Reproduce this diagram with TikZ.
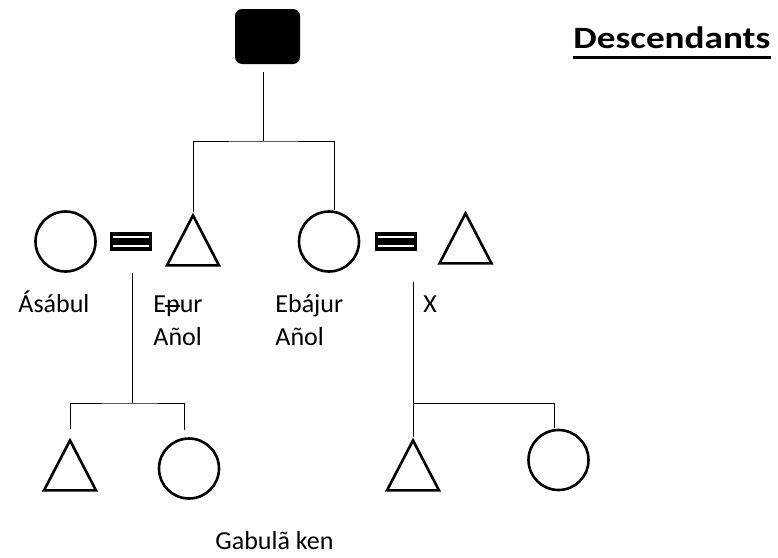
\documentclass[tikz,border=0pt]{standalone}
\usepackage{graphicx}
\usepackage{fontspec}
\setmainfont{Carlito}
\usetikzlibrary{shapes.geometric}
\newcommand{\pbar}{\rlap{\kern-0.05em\raisebox{0.21em}{\rule{0.6em}{0.06em}}}p}

\begin{document}
\begin{tikzpicture}[x=1pt,y=-1pt,line width=0.9pt,
    female/.style={circle,draw,line width=2.6pt,minimum size=60pt,inner sep=0pt},
    male/.style={isosceles triangle,shape border rotate=90,isosceles triangle stretches,draw,line width=2.6pt,minimum width=52pt,minimum height=50pt,inner sep=0pt,anchor=apex},
    marriage/.style={rectangle,fill=black,minimum width=42pt,minimum height=19pt,inner sep=0pt,
        path picture={\draw[white,line width=2.8pt] ([shift={(-18pt,4.5pt)}]path picture bounding box.center) -- ++(36pt,0)
                                                    ([shift={(-18pt,-4.5pt)}]path picture bounding box.center) -- ++(36pt,0);}},
    kinname/.style={font=\fontsize{26}{33}\selectfont,anchor=base west,align=left,inner sep=0pt}]
    \useasboundingbox (0,0) rectangle (778,557);

    % ego and siblings
    \node[fill=black,rounded corners=7pt,minimum width=65pt,minimum height=55pt] (ego) at (267.5,36.5) {};
    \coordinate (egoline) at (263,72);
    \coordinate (sib) at (263,141);
    \node[female] (asabul) at (65.5,241.5) {};
    \node[marriage] (m1) at (131,241.5) {};
    \node[male] (epur) at (193,212) {};
    \node[female] (ebajur) at (329,241.5) {};
    \node[marriage] (m2) at (395.5,241.5) {};
    \node[male] (x) at (465.5,210) {};

    % children
    \node[male] (son1) at (70,437) {};
    \node[female] (dau1) at (189,468.5) {};
    \node[male] (son2) at (413,437) {};
    \node[female] (dau2) at (558.5,460) {};
    \coordinate (d1) at (132,273);
    \coordinate (j1) at (132,403);
    \coordinate (d2) at (413,282);
    \coordinate (j2) at (413,403);

    \draw (egoline) -- (sib);
    \draw (epur.apex) |- (sib) -| ([xshift=5pt]ebajur.north);
    \draw (d1) -- (j1);
    \draw ([yshift=8pt]son1.apex) |- (j1) -| ([xshift=-5pt,yshift=7pt]dau1.north);
    \draw (d2) -- (son2.apex);
    \draw (j2) -| ([xshift=-4.5pt,yshift=1pt]dau2.north);

    % names (base = last line)
    \node[kinname] (lasabul) at (18,312) {Ásábul};
    \node[kinname] (lepur) at (153,345) {E\pbar ur\\Añol};
    \node[kinname] (lebajur) at (275,345) {Ebájur\\Añol};
    \node[kinname] (lx) at (423,312) {X};
    \node[kinname] (lgabula) at (215,549) {Gabulã ken};
    \node[font=\bfseries\fontsize{31}{36}\selectfont,anchor=base west,inner sep=0pt] (title) at (573,48) {\scalebox{1.2}[1]{Descendants}};
    \draw[line width=3pt] ([yshift=-9pt]title.base west) -- ([yshift=-9pt]title.base east);
\end{tikzpicture}
\end{document}
